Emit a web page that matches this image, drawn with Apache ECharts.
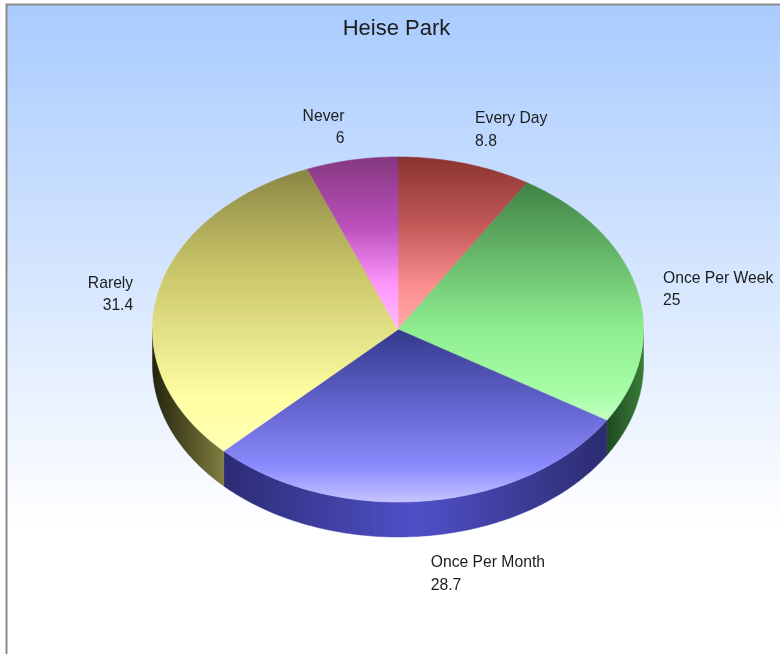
<!DOCTYPE html>
<html><head><meta charset="utf-8">
<style>html,body{margin:0;padding:0;background:#fff}#c{width:780px;height:654px}</style>
<script src="https://cdn.jsdelivr.net/npm/echarts@6/dist/echarts.min.js"></script>
</head><body><div id="c"></div>
<script>
const titleText = 'Heise Park';
const categories = ['Every Day', 'Once Per Week', 'Once Per Month', 'Rarely', 'Never'];
const values = [8.8, 25, 28.7, 31.4, 6];

const CX = 398, CY = 329.5, RX = 245.5, RY = 172.5, DEPTH = 35;
const FONT = '15.7px "Liberation Sans", Arial, sans-serif';

// top face colours: [stop offset, colour]
const topStops = [
  [[0,'#8a3330'],[0.4,'#c25a58'],[0.75,'#fb8f8f'],[1,'#ffaaaa']],
  [[0,'#3f8344'],[0.62,'#8fee90'],[0.9,'#a9ffa9'],[1,'#c4ffc4']],
  [[0,'#343a8c'],[0.45,'#6464d0'],[0.8,'#8c8cff'],[1,'#c4c4ff']],
  [[0,'#8a8644'],[0.35,'#c8c468'],[0.82,'#ffffa4'],[1,'#ffffb4']],
  [[0,'#84387f'],[0.4,'#bb4fbb'],[0.75,'#ff99ff'],[1,'#ffbbff']]
];
const sideStops = [
  null,
  [[0,'#1e4a20'],[1,'#3a7c3a']],
  [[0,'#2c2c74'],[0.5,'#5050c8'],[1,'#2c2c70']],
  [[0,'#24240e'],[1,'#807e40']],
  null
];
// label anchor relative to the slice's rim point, and alignment
const labelLayout = [
  {dx:10,  dy:-56, align:'left'},
  {dx:26,  dy:-23, align:'left'},
  {dx:5,   dy:51,  align:'left'},
  {dx:-24.5,dy:-22, align:'right'},
  {dx:-7.5,dy:-55, align:'right'}
];

const total = values.reduce((a,b)=>a+b,0);
let run = 0;
const seriesData = values.map((v,i)=>{ const s=run; run+=v; return [i, s/total*360, run/total*360, v]; });
const rad = d => d*Math.PI/180;
const pt = (deg, dy=0) => [CX+RX*Math.sin(rad(deg)), CY-RY*Math.cos(rad(deg))+dy];
function arc(a,b,dy=0){ const n=Math.max(2,Math.ceil((b-a)*1.5)), out=[]; for(let k=0;k<=n;k++) out.push(pt(a+(b-a)*k/n,dy)); return out; }

function renderSide(p, api){
  const i=api.value(0), a=Math.max(api.value(1),90), b=Math.min(api.value(2),270);
  if(b<=a) return {type:'group',children:[]};
  const top=arc(a,b), bot=arc(a,b,DEPTH).reverse();
  const xs=top.map(q=>q[0]), x0=Math.min(...xs), x1=Math.max(...xs);
  const g=new echarts.graphic.LinearGradient(x0,0,x1,0,sideStops[i].map(s=>({offset:s[0],color:s[1]})),true);
  return {type:'polygon',shape:{points:top.concat(bot)},style:{fill:g,stroke:g,lineWidth:0.5}};
}
function renderTop(p, api){
  const i=api.value(0), a=api.value(1), b=api.value(2);
  const pts=[[CX,CY]].concat(arc(a,b));
  const ys=pts.map(q=>q[1]), y0=Math.min(...ys), y1=Math.max(...ys);
  const mid=pt((a+b)/2), L=labelLayout[i];
  const g=new echarts.graphic.LinearGradient(0,y0,0,y1,topStops[i].map(s=>({offset:s[0],color:s[1]})),true);
  return {type:'group',children:[
    {type:'polygon',shape:{points:pts},style:{fill:g,stroke:g,lineWidth:0.6}},
    {type:'text',style:{text:categories[i]+'\n'+api.value(3),x:mid[0]+L.dx,y:mid[1]+L.dy,
      align:L.align,verticalAlign:'top',font:FONT,lineHeight:22.5,fill:'#1c1c1c'}}
  ]};
}

const chart=echarts.init(document.getElementById('c'),null,{renderer:'canvas'});
chart.setOption({
  animation:false,
  backgroundColor:'#ffffff',
  title:{text:titleText,left:391.5,top:13,textAlign:'center',
    textStyle:{fontFamily:'"Liberation Sans", Arial, sans-serif',fontSize:22,fontWeight:'normal',color:'#1c1c1c'}},
  graphic:[{type:'rect',z:-10,silent:true,shape:{x:6.5,y:4.5,width:800,height:700},
    style:{fill:new echarts.graphic.LinearGradient(0,4,0,530,[{offset:0,color:'#a9cbff'},{offset:1,color:'#ffffff'}],true),stroke:'#8a8a8a',lineWidth:2}}],
  series:[
    {type:'custom',coordinateSystem:'none',z:2,renderItem:renderSide,data:seriesData,silent:true},
    {type:'custom',coordinateSystem:'none',z:3,renderItem:renderTop,data:seriesData,silent:true}
  ]
});
</script></body></html>
